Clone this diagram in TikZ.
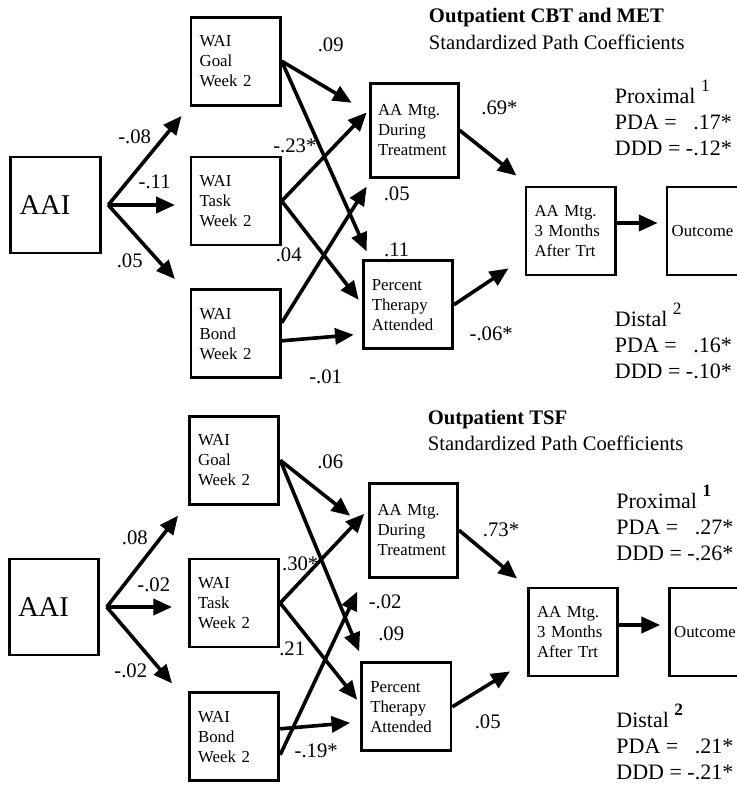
\documentclass[tikz,border=0pt]{standalone}
\usepackage{fontspec}
\setmainfont{Liberation Serif}
\usepackage{tikz}
\usetikzlibrary{arrows.meta, positioning}

\begin{document}
\begin{tikzpicture}[
        x=0.75pt, y=-0.75pt,
        box/.style={rectangle, draw, line width=2.1pt, minimum width=67pt, minimum height=66pt, inner sep=0pt, text width=54pt, align=left, font=\fontsize{12.6}{15}\selectfont},
        bigbox/.style={box, minimum height=72pt, text width=54pt, font=\fontsize{21.5}{24}\selectfont},
        coef/.style={inner sep=0pt, font=\fontsize{15.5}{15.5}\selectfont},
        head/.style={inner sep=0pt, align=left, font=\fontsize{15.5}{20}\selectfont},
        stat/.style={inner sep=0pt, font=\fontsize{16.5}{19.5}\selectfont},
        arrow/.style={line width=2.7pt, -{Triangle[length=14pt, width=12pt]}}
        ]
        \useasboundingbox (0,0) rectangle (737,788);

        % Top panel: Outpatient CBT and MET
        \node (aai) [bigbox] at (55.5,205) {AAI};
        \node (task) [box, right=66pt of aai.north east, anchor=north west] {WAI\\Task\\Week 2};
        \node (goal) [box, above=36.75pt of task] {WAI\\Goal\\Week 2};
        \node (bond) [box, below=31.5pt of task] {WAI\\Bond\\Week 2};
        \node (during) [box, minimum width=66pt, minimum height=70.5pt, below right=49.5pt and 65.25pt of goal.north east] {AA Mtg.\\During\\Treatment};
        \node (percent) [box, below right=9.75pt and 60pt of task.south east] {Percent\\Therapy\\Attended};
        \node (after) [box, below right=5.25pt and 48.75pt of during.south east] {AA Mtg.\\3 Months\\After Trt};
        \node (outcome) [box, minimum width=60pt, text width=53pt, right=36.75pt of after] {Outcome};

        \node (title) [head, above right=24pt and 45pt of during.north west] {\textbf{Outpatient CBT and MET}\\Standardized Path Coefficients};
        \node (prox) [stat, above right=16.5pt and -1.5pt of after.north east] {\begin{tabular}{@{}l@{\ }r@{}}\multicolumn{2}{@{}l@{}}{Proximal\ \raisebox{9pt}{\fontsize{13}{13}\selectfont 1}}\\PDA = & .17*\\DDD = & -.12*\end{tabular}};
        \node (dist) [stat, below right=20pt and -1.5pt of after.south east] {\begin{tabular}{@{}l@{\ }r@{}}\multicolumn{2}{@{}l@{}}{Distal\ \raisebox{9pt}{\fontsize{13}{13}\selectfont 2}}\\PDA = & .16*\\DDD = & -.10*\end{tabular}};

        \coordinate (aaiout) at ([xshift=5pt]aai.east);
        \draw [arrow] (aaiout) -- node[coef, xshift=-7.7pt, yshift=18pt] {-.08} ([xshift=-6pt, yshift=-7pt]goal.south west);
        \draw [arrow, shorten >=11pt] (aaiout) -- node[coef, xshift=4.3pt, yshift=17.25pt] {-.11} (task.west |- aaiout);
        \draw [arrow] (aaiout) -- node[coef, xshift=-8.9pt, yshift=-13.9pt] {.05} ([xshift=-11pt, yshift=7pt]bond.north west);

        \draw [arrow] (goal.east) -- node[coef, xshift=10.5pt, yshift=28pt] {.09} ([xshift=-12.75pt, yshift=-15.75pt]during.north west);
        \draw [arrow] (goal.east) -- node[coef, pos=1, xshift=22.5pt, yshift=1.5pt] {.11} ([xshift=3.75pt, yshift=6pt]percent.north west);
        \draw [arrow] (task.east) -- node[coef, xshift=-22pt, yshift=8.1pt] {-.23*} ([xshift=-1.5pt, yshift=-23pt]during.north west);
        \draw [arrow] (task.east) -- node[coef, xshift=-23.6pt, yshift=-3pt] {.04} ([xshift=-2.25pt, yshift=3.75pt]percent.west);
        \draw [arrow] ([yshift=8.25pt]bond.east) -- node[coef, pos=1, xshift=22.5pt, yshift=-5.25pt] {.05} ([xshift=-1.5pt, yshift=-6pt]during.south west);
        \draw [arrow] ([yshift=-5.25pt]bond.east) -- node[coef, xshift=6pt, yshift=-29pt] {-.01} ([xshift=-6pt, yshift=-22.5pt]percent.west);

        \draw [arrow] (during.east) -- node[coef, xshift=8.6pt, yshift=33.75pt] {.69*} ([xshift=-6pt, yshift=7.5pt]after.north west);
        \draw [arrow] (percent.east) -- node[coef, xshift=7.5pt, yshift=-35.6pt] {-.06*} ([xshift=-12pt, yshift=6pt]after.south west);
        \draw [arrow, shorten >=6pt] ([yshift=6pt]after.east) -- ([yshift=6pt]outcome.west);

        % Bottom panel: Outpatient TSF
        \node (aai2) [bigbox] at (54,607) {AAI};
        \node (task2) [box, right=66pt of aai2.north east, anchor=north west] {WAI\\Task\\Week 2};
        \node (goal2) [box, above=39pt of task2] {WAI\\Goal\\Week 2};
        \node (bond2) [box, below=32.25pt of task2] {WAI\\Bond\\Week 2};
        \node (during2) [box, minimum width=66pt, minimum height=70.5pt, below right=50.25pt and 66pt of goal2.north east] {AA Mtg.\\During\\Treatment};
        \node (percent2) [box, below right=9.75pt and 60pt of task2.south east] {Percent\\Therapy\\Attended};
        \node (after2) [box, below right=6pt and 51pt of during2.south east] {AA Mtg.\\3 Months\\After Trt};
        \node (outcome2) [box, minimum width=60pt, text width=53pt, right=36.75pt of after2] {Outcome};

        \node (title2) [head, above right=23pt and 44.5pt of during2.north west] {\textbf{Outpatient TSF}\\Standardized Path Coefficients};
        \node (prox2) [stat, above right=13.5pt and -2.25pt of after2.north east] {\begin{tabular}{@{}l@{\ }r@{}}\multicolumn{2}{@{}l@{}}{Proximal\ \raisebox{9pt}{\fontsize{13}{13}\selectfont\bfseries 1}}\\PDA = & .27*\\DDD = & -.26*\end{tabular}};
        \node (dist2) [stat, below right=20pt and -2.25pt of after2.south east] {\begin{tabular}{@{}l@{\ }r@{}}\multicolumn{2}{@{}l@{}}{Distal\ \raisebox{9pt}{\fontsize{13}{13}\selectfont\bfseries 2}}\\PDA = & .21*\\DDD = & -.21*\end{tabular}};

        \coordinate (aaiout2) at ([xshift=5pt]aai2.east);
        \draw [arrow] (aaiout2) -- node[coef, xshift=-5.7pt, yshift=18pt] {.08} ([xshift=-7.5pt, yshift=-7.5pt]goal2.south west);
        \draw [arrow, shorten >=12pt] (aaiout2) -- node[coef, xshift=4.8pt, yshift=16.5pt] {-.02} (task2.west |- aaiout2);
        \draw [arrow] (aaiout2) -- node[coef, xshift=-6.5pt, yshift=-19.1pt] {-.02} ([xshift=-12pt, yshift=6pt]bond2.north west);

        \draw [arrow] (goal2.east) -- node[coef, xshift=11.25pt, yshift=19.9pt] {.06} ([xshift=-13.5pt, yshift=-25.5pt]during2.north west);
        \draw [arrow] (goal2.east) -- node[coef, pos=1, xshift=24pt, yshift=13.5pt] {.09} ([xshift=-0.75pt, yshift=7.5pt]percent2.north west);
        \draw [arrow] (task2.east) -- node[coef, xshift=-16.5pt, yshift=-4.1pt] {.30*} ([xshift=-3pt, yshift=-24pt]during2.north west);
        \draw [arrow] (task2.east) -- node[coef, xshift=-19.9pt, yshift=2.25pt] {.21} ([xshift=-2.25pt, yshift=5.25pt]percent2.west);
        \draw [arrow] ([yshift=-13.5pt]bond2.east) -- node[coef, pos=1, xshift=21pt, yshift=-7.5pt] {-.02} ([xshift=-8.25pt, yshift=-9.75pt]during2.south west);
        \draw [arrow] ([yshift=6pt]bond2.east) -- node[coef, xshift=0.75pt, yshift=-18.75pt] {-.19*} ([xshift=-7.5pt, yshift=-12pt]percent2.west);

        \draw [arrow] (during2.east) -- node[coef, xshift=9.75pt, yshift=18.4pt] {.73*} ([xshift=-7.5pt, yshift=6pt]after2.north west);
        \draw [arrow] (percent2.east) -- node[coef, xshift=4.9pt, yshift=-24.75pt] {.05} ([xshift=-12.75pt, yshift=4.5pt]after2.south west);
        \draw [arrow, shorten >=6pt] ([yshift=5.25pt]after2.east) -- ([yshift=5.25pt]outcome2.west);

    \end{tikzpicture}
\end{document}
